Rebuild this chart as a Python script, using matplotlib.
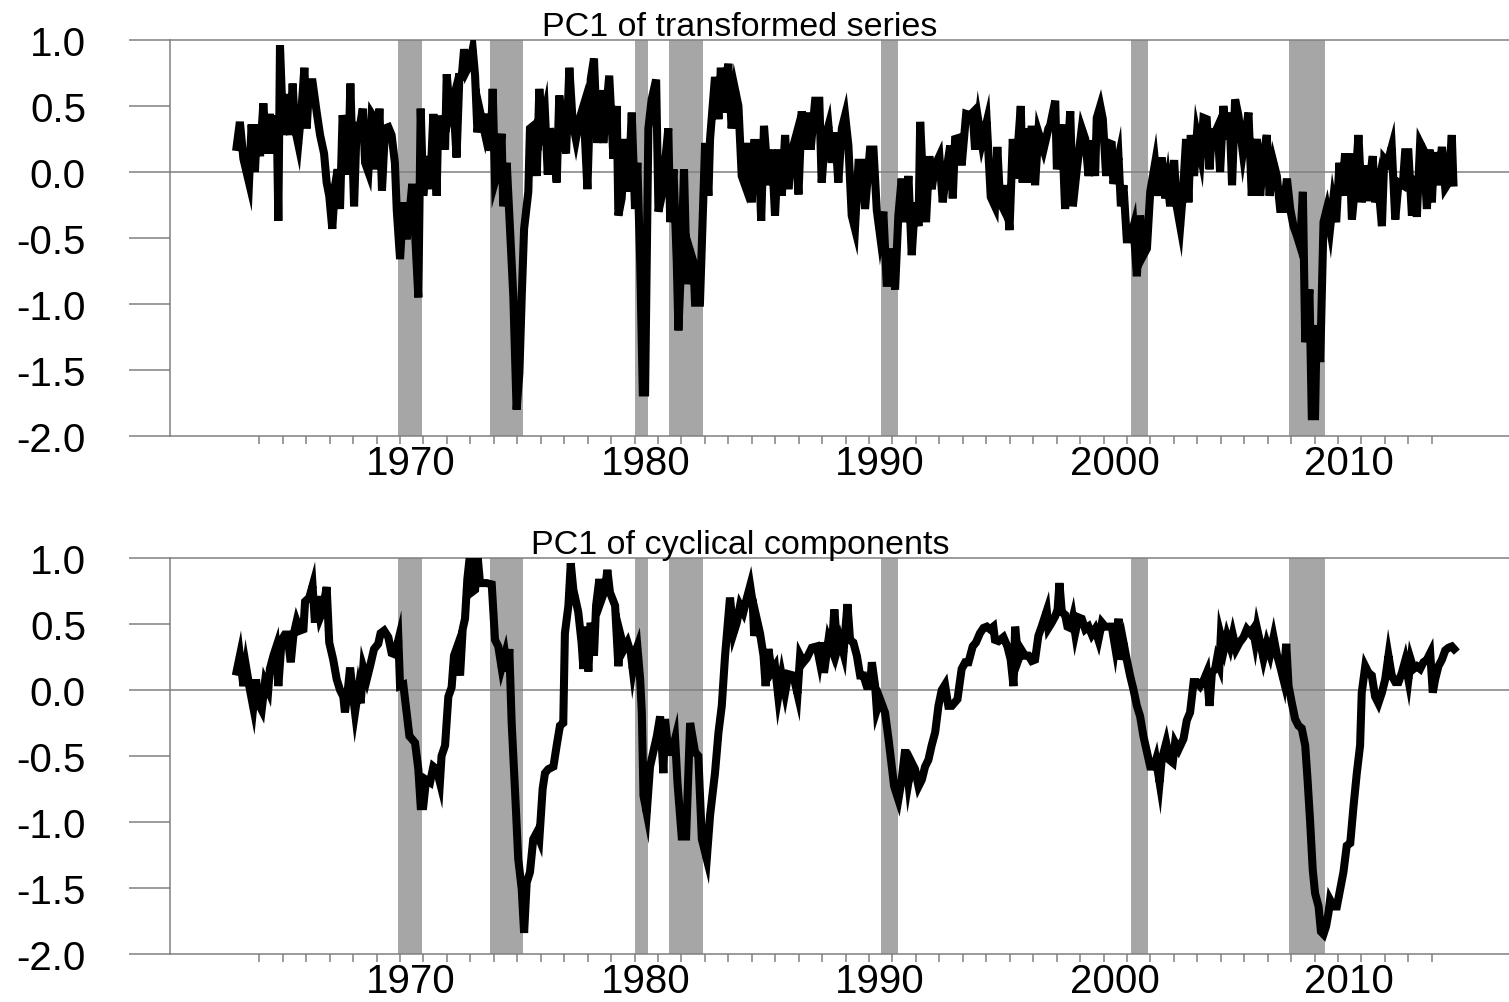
import matplotlib
matplotlib.use("Agg")
import matplotlib.pyplot as plt

plt.rcParams['font.family'] = ['Liberation Sans', 'DejaVu Sans']

# ---------------- data ----------------
transformed_years = [
    1963.03, 1963.17, 1963.32, 1963.56, 1963.67, 1963.81, 1963.91, 1964.03, 1964.17, 1964.31,
    1964.45, 1964.60, 1964.74, 1964.81, 1964.88, 1965.02, 1965.17, 1965.31, 1965.42, 1965.52,
    1965.66, 1965.80, 1965.92, 1966.02, 1966.13, 1966.27, 1966.44, 1966.59, 1966.76, 1966.87,
    1966.98, 1967.11, 1967.23, 1967.34, 1967.44, 1967.55, 1967.70, 1967.79, 1967.88, 1968.04,
    1968.15, 1968.29, 1968.41, 1968.51, 1968.65, 1968.79, 1968.93, 1969.00, 1969.12, 1969.23,
    1969.36, 1969.50, 1969.64, 1969.78, 1969.86, 1970.00, 1970.14, 1970.28, 1970.40, 1970.52,
    1970.64, 1970.78, 1970.88, 1970.99, 1971.14, 1971.28, 1971.42, 1971.56, 1971.63, 1971.78,
    1971.92, 1971.99, 1972.13, 1972.27, 1972.41, 1972.53, 1972.63, 1972.73, 1972.84, 1972.98,
    1973.10, 1973.20, 1973.30, 1973.41, 1973.62, 1973.77, 1973.86, 1973.95, 1974.05, 1974.19,
    1974.33, 1974.40, 1974.55, 1974.69, 1974.83, 1974.97, 1975.09, 1975.19, 1975.29, 1975.47,
    1975.54, 1975.68, 1975.83, 1975.94, 1976.04, 1976.18, 1976.30, 1976.39, 1976.54, 1976.68,
    1976.79, 1976.93, 1977.08, 1977.22, 1977.36, 1977.50, 1977.65, 1977.82, 1977.99, 1978.13,
    1978.27, 1978.41, 1978.53, 1978.67, 1978.92, 1979.10, 1979.24, 1979.31, 1979.45, 1979.60,
    1979.74, 1979.88, 1980.02, 1980.12, 1980.24, 1980.35, 1980.45, 1980.52, 1980.59, 1980.73,
    1980.92, 1981.02, 1981.16, 1981.30, 1981.44, 1981.52, 1981.66, 1981.80, 1981.87, 1982.01,
    1982.11, 1982.23, 1982.34, 1982.51, 1982.58, 1982.79, 1982.94, 1983.01, 1983.15, 1983.22,
    1983.43, 1983.58, 1983.68, 1983.79, 1983.86, 1984.00, 1984.14, 1984.29, 1984.43, 1984.57,
    1984.71, 1984.86, 1985.00, 1985.10, 1985.28, 1985.40, 1985.52, 1985.71, 1985.85, 1985.99,
    1986.13, 1986.28, 1986.42, 1986.56, 1986.70, 1986.85, 1986.99, 1987.13, 1987.27, 1987.41,
    1987.51, 1987.70, 1987.88, 1987.98, 1988.12, 1988.27, 1988.41, 1988.55, 1988.69, 1988.84,
    1988.98, 1989.12, 1989.26, 1989.40, 1989.55, 1989.69, 1989.83, 1990.04, 1990.19, 1990.33,
    1990.47, 1990.61, 1990.75, 1990.87, 1990.97, 1991.11, 1991.25, 1991.39, 1991.54, 1991.68,
    1991.82, 1991.96, 1992.11, 1992.18, 1992.29, 1992.43, 1992.57, 1992.67, 1992.82, 1993.00,
    1993.14, 1993.31, 1993.46, 1993.57, 1993.67, 1993.85, 1993.95, 1994.14, 1994.31, 1994.42,
    1994.52, 1994.66, 1994.81, 1995.02, 1995.19, 1995.37, 1995.47, 1995.59, 1995.73, 1995.84,
    1995.99, 1996.13, 1996.23, 1996.37, 1996.47, 1996.55, 1996.70, 1996.80, 1996.94, 1997.08,
    1997.22, 1997.44, 1997.65, 1997.72, 1997.94, 1998.01, 1998.12, 1998.22, 1998.36, 1998.46,
    1998.58, 1998.69, 1998.86, 1999.07, 1999.22, 1999.36, 1999.50, 1999.64, 1999.71, 1999.86,
    1999.97, 2000.11, 2000.21, 2000.35, 2000.42, 2000.57, 2000.64, 2000.74, 2000.85, 2000.99,
    2001.13, 2001.28, 2001.42, 2001.56, 2001.70, 2001.85, 2001.99, 2002.20, 2002.34, 2002.48,
    2002.63, 2002.73, 2002.84, 2003.01, 2003.12, 2003.27, 2003.38, 2003.52, 2003.62, 2003.72,
    2003.86, 2003.98, 2004.15, 2004.26, 2004.40, 2004.52, 2004.62, 2004.76, 2004.86, 2004.97,
    2005.11, 2005.26, 2005.37, 2005.48, 2005.61, 2005.75, 2005.94, 2006.08, 2006.18, 2006.32,
    2006.42, 2006.54, 2006.68, 2006.82, 2006.96, 2007.08, 2007.25, 2007.39, 2007.53, 2007.67,
    2007.82, 2007.96, 2008.10, 2008.24, 2008.38, 2008.50, 2008.60, 2008.78, 2008.88, 2009.02,
    2009.09, 2009.24, 2009.38, 2009.52, 2009.66, 2009.78, 2009.92, 2010.06, 2010.16, 2010.30,
    2010.40, 2010.49, 2010.59, 2010.73, 2010.87, 2011.01, 2011.16, 2011.27, 2011.37, 2011.48,
    2011.58, 2011.72, 2011.87, 2011.97, 2012.11, 2012.29, 2012.44, 2012.58, 2012.76, 2012.86,
    2013.00, 2013.15, 2013.25, 2013.36, 2013.50, 2013.64, 2013.79, 2013.90, 2014.00, 2014.10,
    2014.24, 2014.43, 2014.57, 2014.71, 2014.85, 2014.92,
]
transformed_values = [
    0.19, 0.38, 0.10, -0.08, 0.36, 0.00, 0.36, 0.12, 0.52, 0.14,
    0.44, 0.14, 0.43, -0.37, 0.96, 0.28, 0.59, 0.28, 0.67, 0.33,
    0.21, 0.48, 0.79, 0.33, 0.68, 0.68, 0.46, 0.28, 0.14, -0.08,
    -0.18, -0.43, -0.10, 0.02, -0.28, 0.43, 0.25, -0.02, 0.67, -0.26,
    0.35, 0.35, 0.48, 0.07, 0.00, 0.44, 0.40, 0.02, 0.48, -0.14,
    0.33, 0.34, 0.28, 0.07, -0.29, -0.66, -0.23, -0.51, -0.32, -0.09,
    -0.46, -0.95, 0.48, -0.18, 0.12, -0.13, 0.44, -0.18, 0.40, 0.40,
    0.17, 0.74, 0.45, 0.55, 0.11, 0.72, 0.72, 0.93, 0.77, 0.82,
    0.93, 0.73, 0.30, 0.46, 0.29, 0.44, 0.16, 0.63, -0.07, 0.02,
    0.29, -0.26, 0.07, -0.43, -0.94, -1.80, -1.52, -0.94, -0.43, -0.15,
    0.33, 0.35, -0.03, 0.63, 0.33, 0.45, -0.02, 0.33, 0.20, -0.08,
    0.58, 0.33, 0.14, 0.79, 0.38, 0.25, 0.40, 0.50, -0.13, 0.70,
    0.86, 0.22, 0.62, 0.22, 0.73, 0.10, 0.50, -0.33, -0.20, 0.25,
    -0.15, 0.45, -0.28, 0.07, -0.68, -1.67, -1.67, -0.68, 0.33, 0.55,
    0.70, -0.30, -0.18, 0.07, 0.33, -0.38, 0.02, -0.68, -1.20, -0.58,
    0.02, -0.85, -0.58, -0.68, -0.99, -0.99, -0.18, 0.22, -0.18, 0.25,
    0.72, 0.40, 0.79, 0.45, 0.65, 0.82, 0.33, 0.62, 0.50, -0.03,
    -0.10, 0.22, -0.23, 0.22, 0.22, -0.37, 0.35, -0.10, 0.17, -0.33,
    0.17, -0.18, 0.28, -0.13, 0.15, 0.25, -0.17, 0.46, 0.17, 0.45,
    0.17, 0.54, 0.54, -0.08, 0.25, 0.35, 0.07, 0.30, -0.08, 0.33,
    0.43, 0.20, -0.33, -0.43, 0.07, 0.07, -0.28, 0.17, 0.17, -0.29,
    -0.48, -0.30, -0.84, -0.84, -0.58, -0.89, -0.33, -0.05, -0.38, -0.03,
    -0.63, -0.23, -0.41, 0.38, -0.03, -0.38, 0.12, -0.13, 0.05, 0.12,
    -0.23, 0.02, 0.20, -0.20, 0.25, 0.26, 0.05, 0.44, 0.43, 0.45,
    0.17, 0.39, 0.22, 0.38, -0.19, -0.26, 0.19, -0.23, -0.28, -0.10,
    -0.44, 0.25, -0.05, 0.25, 0.50, -0.08, 0.33, -0.08, 0.35, -0.10,
    0.30, 0.17, 0.33, 0.35, 0.54, 0.02, 0.22, 0.36, -0.28, 0.12,
    0.46, -0.26, 0.02, 0.33, 0.25, -0.03, 0.24, -0.03, 0.41, 0.50,
    0.40, -0.03, 0.22, 0.21, -0.09, 0.05, 0.11, -0.26, -0.10, -0.51,
    -0.51, -0.41, -0.79, -0.33, -0.63, -0.58, -0.15, 0.07, -0.18, 0.11,
    -0.20, -0.08, -0.26, 0.09, -0.26, -0.41, -0.17, 0.25, -0.23, 0.28,
    -0.03, 0.28, 0.12, 0.41, 0.40, 0.02, 0.30, 0.30, 0.34, 0.00,
    0.50, 0.25, 0.45, -0.10, 0.55, 0.43, 0.15, 0.33, 0.45, -0.18,
    0.07, 0.25, -0.18, 0.12, 0.28, -0.18, 0.07, -0.03, -0.28, -0.28,
    -0.05, -0.28, -0.41, -0.48, -0.56, -0.15, -1.29, -0.89, -1.85, -1.85,
    -1.16, -1.44, -0.38, -0.28, -0.43, -0.23, -0.38, 0.07, -0.18, 0.14,
    -0.18, 0.14, -0.36, -0.10, 0.28, -0.23, 0.05, -0.22, -0.03, 0.12,
    -0.23, -0.10, -0.41, 0.10, 0.07, 0.19, -0.36, -0.08, -0.10, 0.15,
    0.15, -0.33, -0.03, -0.34, 0.22, 0.17, -0.28, 0.17, -0.23, 0.15,
    -0.10, 0.19, -0.12, -0.08, 0.28, -0.08,
]

cyclical_years = [
    1963.03, 1963.17, 1963.32, 1963.43, 1963.60, 1963.74, 1963.86, 1963.96, 1964.10, 1964.24,
    1964.38, 1964.45, 1964.60, 1964.71, 1964.81, 1964.95, 1965.09, 1965.19, 1965.34, 1965.45,
    1965.59, 1965.73, 1965.88, 1965.95, 1966.13, 1966.27, 1966.37, 1966.47, 1966.59, 1966.70,
    1966.87, 1966.98, 1967.15, 1967.30, 1967.44, 1967.58, 1967.65, 1967.79, 1967.87, 1967.98,
    1968.08, 1968.22, 1968.32, 1968.43, 1968.58, 1968.72, 1968.89, 1969.07, 1969.17, 1969.32,
    1969.50, 1969.64, 1969.78, 1969.93, 1970.00, 1970.14, 1970.28, 1970.40, 1970.50, 1970.64,
    1970.78, 1970.88, 1970.99, 1971.11, 1971.28, 1971.42, 1971.56, 1971.70, 1971.77, 1971.92,
    1972.06, 1972.20, 1972.30, 1972.44, 1972.56, 1972.67, 1972.77, 1972.87, 1972.98, 1973.05,
    1973.20, 1973.30, 1973.41, 1973.55, 1973.69, 1973.91, 1974.05, 1974.19, 1974.33, 1974.48,
    1974.58, 1974.66, 1974.76, 1974.90, 1975.04, 1975.19, 1975.29, 1975.40, 1975.54, 1975.68,
    1975.83, 1975.94, 1976.08, 1976.18, 1976.32, 1976.54, 1976.68, 1976.82, 1976.96, 1977.03,
    1977.18, 1977.28, 1977.39, 1977.60, 1977.74, 1977.82, 1977.93, 1978.03, 1978.13, 1978.27,
    1978.36, 1978.50, 1978.60, 1978.74, 1978.84, 1978.95, 1979.17, 1979.31, 1979.41, 1979.55,
    1979.70, 1979.84, 1979.92, 1980.02, 1980.12, 1980.24, 1980.31, 1980.38, 1980.52, 1980.66,
    1980.80, 1980.95, 1981.09, 1981.23, 1981.30, 1981.44, 1981.59, 1981.73, 1981.83, 1982.01,
    1982.20, 1982.37, 1982.58, 1982.72, 1982.87, 1983.08, 1983.22, 1983.43, 1983.58, 1983.72,
    1983.86, 1984.00, 1984.07, 1984.22, 1984.36, 1984.50, 1984.64, 1984.78, 1984.93, 1985.04,
    1985.10, 1985.21, 1985.35, 1985.50, 1985.59, 1985.71, 1985.85, 1985.99, 1986.13, 1986.28,
    1986.42, 1986.56, 1986.77, 1986.95, 1987.06, 1987.20, 1987.34, 1987.56, 1987.77, 1987.88,
    1987.98, 1988.08, 1988.27, 1988.41, 1988.52, 1988.65, 1988.76, 1988.91, 1989.08, 1989.19,
    1989.33, 1989.48, 1989.62, 1989.76, 1989.90, 1990.04, 1990.12, 1990.26, 1990.33, 1990.47,
    1990.68, 1990.83, 1990.97, 1991.07, 1991.25, 1991.39, 1991.54, 1991.68, 1991.82, 1991.96,
    1992.11, 1992.25, 1992.39, 1992.53, 1992.67, 1992.82, 1992.96, 1993.10, 1993.24, 1993.38,
    1993.53, 1993.77, 1993.95, 1994.10, 1994.24, 1994.42, 1994.56, 1994.73, 1994.88, 1995.02,
    1995.16, 1995.30, 1995.37, 1995.52, 1995.73, 1995.90, 1996.04, 1996.16, 1996.23, 1996.37,
    1996.51, 1996.65, 1996.80, 1996.94, 1997.08, 1997.22, 1997.36, 1997.58, 1997.65, 1997.79,
    1997.94, 1998.04, 1998.12, 1998.22, 1998.36, 1998.46, 1998.58, 1998.69, 1998.79, 1998.93,
    1999.07, 1999.22, 1999.36, 1999.50, 1999.64, 1999.78, 1999.93, 2000.07, 2000.21, 2000.35,
    2000.49, 2000.64, 2000.71, 2000.85, 2000.99, 2001.13, 2001.28, 2001.42, 2001.56, 2001.70,
    2001.85, 2001.99, 2002.16, 2002.24, 2002.39, 2002.48, 2002.67, 2002.81, 2002.95, 2003.05,
    2003.20, 2003.41, 2003.55, 2003.69, 2003.84, 2003.98, 2004.12, 2004.26, 2004.40, 2004.52,
    2004.62, 2004.76, 2004.83, 2004.94, 2005.00, 2005.14, 2005.26, 2005.40, 2005.51, 2005.65,
    2005.80, 2005.97, 2006.11, 2006.25, 2006.37, 2006.46, 2006.54, 2006.68, 2006.82, 2006.96,
    2007.10, 2007.25, 2007.39, 2007.53, 2007.67, 2007.79, 2007.89, 2008.03, 2008.17, 2008.31,
    2008.45, 2008.60, 2008.70, 2008.81, 2008.92, 2009.02, 2009.17, 2009.27, 2009.38, 2009.49,
    2009.59, 2009.66, 2009.81, 2009.95, 2010.09, 2010.23, 2010.37, 2010.52, 2010.66, 2010.80,
    2010.94, 2011.01, 2011.16, 2011.30, 2011.44, 2011.58, 2011.72, 2011.87, 2012.01, 2012.15,
    2012.29, 2012.44, 2012.58, 2012.72, 2012.86, 2013.00, 2013.10, 2013.22, 2013.36, 2013.50,
    2013.64, 2013.79, 2013.93, 2014.04, 2014.14, 2014.28, 2014.43, 2014.57, 2014.71, 2014.85,
    2014.95,
]
cyclical_values = [
    0.14, 0.26, 0.03, 0.18, 0.00, -0.13, 0.08, -0.10, -0.15, 0.06,
    0.00, 0.16, 0.26, 0.32, 0.03, 0.38, 0.42, 0.42, 0.21, 0.41,
    0.52, 0.45, 0.46, 0.67, 0.70, 0.79, 0.51, 0.71, 0.55, 0.60,
    0.78, 0.36, 0.23, 0.08, 0.00, -0.05, -0.17, 0.03, 0.17, -0.02,
    -0.17, 0.00, -0.10, 0.17, 0.08, 0.18, 0.31, 0.35, 0.43, 0.45,
    0.40, 0.28, 0.27, 0.38, 0.03, 0.04, -0.17, -0.35, -0.37, -0.40,
    -0.60, -0.88, -0.88, -0.68, -0.70, -0.58, -0.60, -0.70, -0.50, -0.42,
    -0.05, 0.02, 0.26, 0.33, 0.11, 0.46, 0.54, 0.84, 1.02, 0.74,
    0.76, 1.03, 0.81, 0.81, 0.81, 0.80, 0.38, 0.33, 0.17, 0.27,
    0.14, 0.31, -0.25, -0.75, -1.28, -1.51, -1.84, -1.46, -1.38, -1.13,
    -1.08, -1.13, -0.75, -0.63, -0.60, -0.58, -0.42, -0.27, -0.25, 0.43,
    0.64, 0.96, 0.76, 0.59, 0.36, 0.16, 0.48, 0.14, 0.51, 0.26,
    0.64, 0.84, 0.69, 0.76, 0.91, 0.74, 0.64, 0.18, 0.41, 0.31,
    0.36, 0.28, 0.16, 0.28, 0.33, 0.08, -0.17, -0.80, -0.93, -0.58,
    -0.47, -0.35, -0.20, -0.63, -0.22, -0.47, -0.47, -0.37, -0.70, -1.11,
    -1.11, -0.25, -0.47, -0.50, -1.13, -1.28, -0.95, -0.63, -0.32, -0.12,
    0.26, 0.56, 0.70, 0.43, 0.51, 0.64, 0.59, 0.69, 0.79, 0.66,
    0.41, 0.54, 0.43, 0.26, 0.03, 0.31, 0.14, 0.18, -0.05, 0.11,
    -0.02, 0.12, 0.11, -0.03, 0.26, 0.21, 0.24, 0.32, 0.33, 0.23,
    0.36, 0.13, 0.38, 0.31, 0.61, 0.31, 0.38, 0.28, 0.65, 0.38,
    0.36, 0.26, 0.11, 0.11, 0.03, 0.03, 0.21, 0.03, -0.15, -0.07,
    -0.17, -0.37, -0.58, -0.73, -0.83, -0.68, -0.45, -0.70, -0.55, -0.60,
    -0.73, -0.68, -0.58, -0.53, -0.42, -0.32, -0.12, 0.00, 0.04, -0.12,
    -0.12, -0.07, 0.16, 0.21, 0.21, 0.33, 0.36, 0.43, 0.47, 0.48,
    0.46, 0.48, 0.38, 0.37, 0.40, 0.33, 0.23, 0.03, 0.48, 0.23,
    0.30, 0.26, 0.26, 0.22, 0.23, 0.41, 0.48, 0.60, 0.47, 0.51,
    0.56, 0.61, 0.81, 0.59, 0.57, 0.48, 0.47, 0.55, 0.43, 0.55,
    0.54, 0.46, 0.48, 0.42, 0.46, 0.38, 0.51, 0.48, 0.48, 0.48,
    0.33, 0.54, 0.23, 0.36, 0.23, 0.11, 0.00, -0.12, -0.20, -0.35,
    -0.47, -0.58, -0.58, -0.53, -0.70, -0.53, -0.40, -0.53, -0.55, -0.40,
    -0.45, -0.37, -0.23, -0.17, 0.06, 0.06, 0.03, 0.07, 0.13, -0.12,
    0.13, 0.16, 0.23, 0.18, 0.41, 0.31, 0.41, 0.33, 0.42, 0.31,
    0.36, 0.40, 0.46, 0.43, 0.46, 0.37, 0.47, 0.36, 0.24, 0.35,
    0.27, 0.40, 0.27, 0.18, 0.08, 0.35, 0.03, -0.10, -0.22, -0.27,
    -0.29, -0.42, -0.68, -1.00, -1.36, -1.54, -1.64, -1.83, -1.85, -1.79,
    -1.69, -1.59, -1.64, -1.64, -1.51, -1.38, -1.18, -1.16, -0.88, -0.63,
    -0.42, -0.02, 0.18, 0.13, 0.11, -0.05, -0.10, -0.02, 0.08, 0.26,
    0.11, 0.06, 0.06, 0.13, 0.22, 0.08, 0.23, 0.16, 0.18, 0.16,
    0.21, 0.23, 0.28, -0.02, 0.08, 0.18, 0.23, 0.30, 0.32, 0.33,
    0.31,
]

recessions = [(1969.93, 1970.92), (1973.84, 1975.26), (1980.02, 1980.59),
              (1981.48, 1982.91), (1990.50, 1991.22), (2001.16, 2001.88),
              (2007.91, 2009.45)]

y_ticks = [-2.0, -1.5, -1.0, -0.5, 0.0, 0.5, 1.0]
y_tick_labels = ['-2.0', '-1.5', '-1.0', '-0.5', '0.0', '0.5', '1.0']
decades = [1970, 1980, 1990, 2000, 2010]
decade_labels = ['1970', '1980', '1990', '2000', '2010']
year_ticks = list(range(1964, 2015))
titles = ['PC1 of transformed series', 'PC1 of cyclical components']

# ---------------- figure ----------------
W, H = 1509, 1003
fig = plt.figure(figsize=(W / 100, H / 100), dpi=100)
AXC = '#808080'
SHADE = '#a6a6a6'
LEFT = 170


def panel(top_px, bottom_px, years, values, title, title_baseline):
    ax = fig.add_axes([LEFT / W, 1 - bottom_px / H, (W - LEFT) / W, (bottom_px - top_px) / H])
    for a, b in recessions:
        ax.axvspan(a, b, color=SHADE, lw=0, zorder=1)
    ax.axhline(0, color=AXC, lw=1.1, zorder=2)
    ax.plot(years, values, color='black', lw=5.8, solid_joinstyle='miter', zorder=3)
    ax.set_xlim(1960.19, 2017.29)
    ax.set_ylim(-2.0, 1.0)
    for s in ['left', 'top', 'bottom']:
        ax.spines[s].set_color(AXC)
        ax.spines[s].set_linewidth(1.1)
    ax.spines['right'].set_visible(False)
    ax.set_yticks(y_ticks, y_tick_labels)
    ax.tick_params(axis='y', which='major', direction='out', length=29.5, width=1.1,
                   color=AXC, pad=31, labelsize=29)
    ax.set_xticks(year_ticks, minor=True)
    ax.set_xticks([d + 0.47 for d in decades], decade_labels)
    ax.tick_params(axis='x', which='minor', direction='out', length=5.8, width=1.1, color=AXC)
    ax.tick_params(axis='x', which='major', length=0, pad=6, labelsize=29)
    fig.text(740 / W, 1 - title_baseline / H, title, ha='center', va='baseline', fontsize=24.5)
    return ax


panel(41, 437, transformed_years, transformed_values, titles[0], 36)
panel(559, 955, cyclical_years, cyclical_values, titles[1], 554)

fig.savefig('out.png', dpi=100)
